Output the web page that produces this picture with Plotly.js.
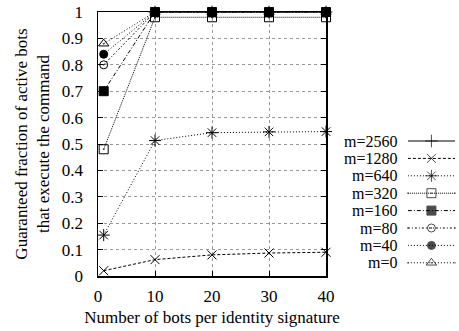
<!DOCTYPE html>
<html>
<head>
<meta charset="utf-8">
<script src="https://cdn.plot.ly/plotly-3.0.1.min.js"></script>
<style>
  html, body { margin: 0; padding: 0; background: #fff; }
  #chart { width: 459px; height: 331px; }
</style>
</head>
<body>
<div id="chart"></div>
<script>
// Bots per identity signature (x) and guaranteed fraction of active bots (y)
const botsPerSig = [1, 10, 20, 30, 40];
const botsFrom10 = [10, 20, 30, 40];

const seriesNames = ["m=2560", "m=1280", "m=640", "m=320", "m=160", "m=80", "m=40", "m=0"];

const m2560 = [1, 1, 1, 1];
const m1280 = [0.02, 0.062, 0.08, 0.087, 0.09];
const m640  = [0.155, 0.513, 0.543, 0.546, 0.547];
const m320  = [0.48, 0.98, 0.98, 0.98, 0.98];
const m160  = [0.70, 1, 1, 1, 1];
const m80   = [0.80, 1, 1, 1, 1];
const m40   = [0.84, 1, 1, 1, 1];
const m0    = [0.88, 1, 1, 1, 1];

const xTicks = [0, 10, 20, 30, 40];
const yTicks = [0, 0.1, 0.2, 0.3, 0.4, 0.5, 0.6, 0.7, 0.8, 0.9, 1];

// line/marker style per series
const styles = {
  "m=2560": {dash: "solid",              symbol: "cross-thin-open", size: 9},
  "m=1280": {dash: "3px,2px",            symbol: "x-thin-open",     size: 9},
  "m=640":  {dash: "1px,2px",            symbol: "asterisk-open",   size: 10},
  "m=320":  {dash: "1px,1px",            symbol: "square-open-dot", size: 9},
  "m=160":  {dash: "4px,2px,1px,2px",    symbol: "square",          size: 9},
  "m=80":   {dash: "2px,2px,1px,2px",    symbol: "circle-open-dot", size: 8},
  "m=40":   {dash: "1px,2px",            symbol: "circle",          size: 8},
  "m=0":    {dash: "1px,2px",            symbol: "triangle-up-open-dot", size: 9}
};

const seriesData = {
  "m=2560": [botsFrom10, m2560],
  "m=1280": [botsPerSig, m1280],
  "m=640":  [botsPerSig, m640],
  "m=320":  [botsPerSig, m320],
  "m=160":  [botsPerSig, m160],
  "m=80":   [botsPerSig, m80],
  "m=40":   [botsPerSig, m40],
  "m=0":    [botsPerSig, m0]
};

const traces = [];
// draw from last to first so heavier markers end up on top
seriesNames.slice().reverse().forEach(name => {
  const st = styles[name];
  traces.push({
    x: seriesData[name][0], y: seriesData[name][1],
    type: "scatter", mode: "lines+markers", showlegend: false,
    line: {color: "#000", width: 1, dash: st.dash},
    marker: {symbol: st.symbol, size: st.size, color: "#000",
             line: {color: "#000", width: 1}},
    xaxis: "x", yaxis: "y", cliponaxis: false
  });
});

// key samples, one row per series on a side axis
const keyX = [0, 0.5, 1];
seriesNames.forEach((name, i) => {
  const st = styles[name];
  traces.push({
    x: keyX, y: [i, i, i],
    type: "scatter", mode: "lines+markers", showlegend: false,
    line: {color: "#000", width: 1, dash: st.dash},
    marker: {symbol: st.symbol, size: [0, st.size, 0], color: "#000",
             line: {color: "#000", width: 1}},
    xaxis: "x2", yaxis: "y2", cliponaxis: false, hoverinfo: "skip"
  });
});

const fontMain = {family: "Liberation Serif", size: 17, color: "#000"};
const fontKey = {family: "Liberation Serif", size: 16, color: "#000"};

const annotations = seriesNames.map((name, i) => ({
  text: name, xref: "paper", yref: "y2", x: 0.8403, y: i,
  xanchor: "right", yanchor: "middle", showarrow: false,
  borderpad: 0, font: fontKey
}));

const layout = {
  width: 459, height: 331,
  margin: {l: 98, r: 4, t: 12, b: 4},
  paper_bgcolor: "#fff", plot_bgcolor: "#fff",
  font: fontMain,
  showlegend: false,
  xaxis: {
    domain: [0, 0.6387], range: [0, 40],
    tickvals: xTicks, ticktext: xTicks.map(String),
    ticks: "inside", ticklen: 5, tickwidth: 1, tickcolor: "#000",
    showline: true, linecolor: "#000", linewidth: 1.5, mirror: "ticks",
    showgrid: true, gridcolor: "#999", griddash: "dot", gridwidth: 1,
    zeroline: false, tickfont: fontMain, ticklabelstandoff: 4,
    title: {text: "Number of bots per identity signature", font: fontMain, standoff: 6}
  },
  yaxis: {
    domain: [0.1619, 1], range: [0, 1],
    tickvals: yTicks, ticktext: yTicks.map(String),
    ticks: "inside", ticklen: 5, tickwidth: 1, tickcolor: "#000",
    showline: true, linecolor: "#000", linewidth: 1.5, mirror: "ticks",
    showgrid: true, gridcolor: "#999", griddash: "dot", gridwidth: 1,
    zeroline: false, tickfont: fontMain, ticklabelstandoff: 10,
    title: {text: "Guaranteed fraction of active bots<br>that execute the command",
            font: fontMain, standoff: 8}
  },
  xaxis2: {domain: [0.868, 1], range: [0, 1], anchor: "y2", visible: false, fixedrange: true},
  yaxis2: {domain: [0, 1], range: [10.69, -7.414], anchor: "x2", visible: false, fixedrange: true},
  annotations: annotations
};

Plotly.newPlot("chart", traces, layout, {staticPlot: true, displayModeBar: false});
</script>
</body>
</html>
